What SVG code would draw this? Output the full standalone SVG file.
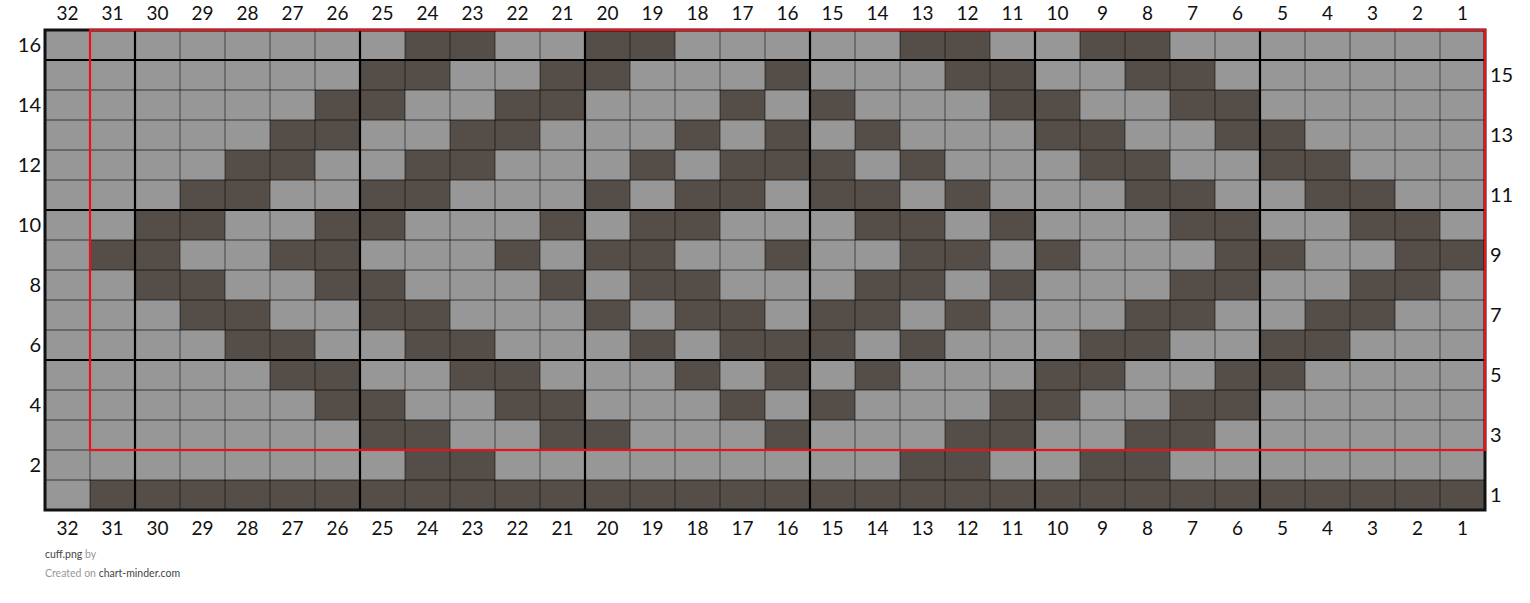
<svg xmlns="http://www.w3.org/2000/svg" xmlns:xlink="http://www.w3.org/1999/xlink" width="1530" height="603" viewBox="0 0 1530 603">
<style>
.d{fill:#554e48}
.t{stroke:#000;stroke-opacity:0.42;stroke-width:1.3}
.k{stroke:#000;stroke-width:2.2}
.n{font-family:Lato,"Liberation Sans",sans-serif;font-size:19px;fill:#111}
.s{font-family:Lato,"Liberation Sans",sans-serif;font-size:20px;fill:#111}
.f{font-family:Lato,"Liberation Sans",sans-serif;font-size:10.5px}
</style>
<defs>
<g id="r1"><rect class="d" x="360" y="0" width="90" height="30"/><rect class="d" x="540" y="0" width="90" height="30"/><rect class="d" x="765" y="0" width="45" height="30"/><rect class="d" x="945" y="0" width="90" height="30"/><rect class="d" x="1125" y="0" width="90" height="30"/></g>
<g id="r2"><rect class="d" x="315" y="0" width="90" height="30"/><rect class="d" x="495" y="0" width="90" height="30"/><rect class="d" x="720" y="0" width="45" height="30"/><rect class="d" x="810" y="0" width="45" height="30"/><rect class="d" x="990" y="0" width="90" height="30"/><rect class="d" x="1170" y="0" width="90" height="30"/></g>
<g id="r3"><rect class="d" x="270" y="0" width="90" height="30"/><rect class="d" x="450" y="0" width="90" height="30"/><rect class="d" x="675" y="0" width="45" height="30"/><rect class="d" x="765" y="0" width="45" height="30"/><rect class="d" x="855" y="0" width="45" height="30"/><rect class="d" x="1035" y="0" width="90" height="30"/><rect class="d" x="1215" y="0" width="90" height="30"/></g>
<g id="r4"><rect class="d" x="225" y="0" width="90" height="30"/><rect class="d" x="405" y="0" width="90" height="30"/><rect class="d" x="630" y="0" width="45" height="30"/><rect class="d" x="720" y="0" width="135" height="30"/><rect class="d" x="900" y="0" width="45" height="30"/><rect class="d" x="1080" y="0" width="90" height="30"/><rect class="d" x="1260" y="0" width="90" height="30"/></g>
<g id="r5"><rect class="d" x="180" y="0" width="90" height="30"/><rect class="d" x="360" y="0" width="90" height="30"/><rect class="d" x="585" y="0" width="45" height="30"/><rect class="d" x="675" y="0" width="90" height="30"/><rect class="d" x="810" y="0" width="90" height="30"/><rect class="d" x="945" y="0" width="45" height="30"/><rect class="d" x="1125" y="0" width="90" height="30"/><rect class="d" x="1305" y="0" width="90" height="30"/></g>
<g id="r6"><rect class="d" x="135" y="0" width="90" height="30"/><rect class="d" x="315" y="0" width="90" height="30"/><rect class="d" x="540" y="0" width="45" height="30"/><rect class="d" x="630" y="0" width="90" height="30"/><rect class="d" x="855" y="0" width="90" height="30"/><rect class="d" x="990" y="0" width="45" height="30"/><rect class="d" x="1170" y="0" width="90" height="30"/><rect class="d" x="1350" y="0" width="90" height="30"/></g>
</defs>
<rect width="1530" height="603" fill="#fff"/>
<g id="chart">
<rect x="45" y="30" width="1440" height="480" fill="#979797"/>
<g id="cells">
<rect class="d" x="405" y="30" width="90" height="30"/><rect class="d" x="585" y="30" width="90" height="30"/><rect class="d" x="900" y="30" width="90" height="30"/><rect class="d" x="1080" y="30" width="90" height="30"/>
<use xlink:href="#r1" y="60"/>
<use xlink:href="#r2" y="90"/>
<use xlink:href="#r3" y="120"/>
<use xlink:href="#r4" y="150"/>
<use xlink:href="#r5" y="180"/>
<use xlink:href="#r6" y="210"/>
<rect class="d" x="90" y="240" width="90" height="30"/><rect class="d" x="270" y="240" width="90" height="30"/><rect class="d" x="495" y="240" width="45" height="30"/><rect class="d" x="585" y="240" width="90" height="30"/><rect class="d" x="765" y="240" width="45" height="30"/><rect class="d" x="900" y="240" width="90" height="30"/><rect class="d" x="1035" y="240" width="45" height="30"/><rect class="d" x="1215" y="240" width="90" height="30"/><rect class="d" x="1395" y="240" width="90" height="30"/>
<use xlink:href="#r6" y="270"/>
<use xlink:href="#r5" y="300"/>
<use xlink:href="#r4" y="330"/>
<use xlink:href="#r3" y="360"/>
<use xlink:href="#r2" y="390"/>
<use xlink:href="#r1" y="420"/>
<rect class="d" x="405" y="450" width="90" height="30"/><rect class="d" x="900" y="450" width="90" height="30"/><rect class="d" x="1080" y="450" width="90" height="30"/>
<rect class="d" x="90" y="480" width="1395" height="30"/>
</g>
<g id="thin-lines" class="t">
<path d="M90 30V510M135 30V510M180 30V510M225 30V510M270 30V510M315 30V510M360 30V510M405 30V510M450 30V510M495 30V510M540 30V510M585 30V510M630 30V510M675 30V510M720 30V510M765 30V510M810 30V510M855 30V510M900 30V510M945 30V510M990 30V510M1035 30V510M1080 30V510M1125 30V510M1170 30V510M1215 30V510M1260 30V510M1305 30V510M1350 30V510M1395 30V510M1440 30V510"/>
<path d="M45 60H1485M45 90H1485M45 120H1485M45 150H1485M45 180H1485M45 210H1485M45 240H1485M45 270H1485M45 300H1485M45 330H1485M45 360H1485M45 390H1485M45 420H1485M45 450H1485M45 480H1485"/>
</g>
<g id="thick-lines" class="k">
<path d="M135 30V510M360 30V510M585 30V510M810 30V510M1035 30V510M1260 30V510"/>
<path d="M45 60H1485M45 210H1485M45 360H1485"/>
</g>
<rect id="border" x="45" y="30" width="1440" height="480" fill="none" stroke="#111" stroke-width="3"/>
<rect id="repeat" x="90" y="30" width="1395" height="420" fill="none" stroke="#e8121a" stroke-width="2.2"/>
</g>
<g id="col-labels-top" class="n" text-anchor="middle">
<text x="67.5" y="20">32</text><text x="112.5" y="20">31</text><text x="157.5" y="20">30</text><text x="202.5" y="20">29</text><text x="247.5" y="20">28</text><text x="292.5" y="20">27</text><text x="337.5" y="20">26</text><text x="382.5" y="20">25</text><text x="427.5" y="20">24</text><text x="472.5" y="20">23</text><text x="517.5" y="20">22</text><text x="562.5" y="20">21</text><text x="607.5" y="20">20</text><text x="652.5" y="20">19</text><text x="697.5" y="20">18</text><text x="742.5" y="20">17</text><text x="787.5" y="20">16</text><text x="832.5" y="20">15</text><text x="877.5" y="20">14</text><text x="922.5" y="20">13</text><text x="967.5" y="20">12</text><text x="1012.5" y="20">11</text><text x="1057.5" y="20">10</text><text x="1102.5" y="20">9</text><text x="1147.5" y="20">8</text><text x="1192.5" y="20">7</text><text x="1237.5" y="20">6</text><text x="1282.5" y="20">5</text><text x="1327.5" y="20">4</text><text x="1372.5" y="20">3</text><text x="1417.5" y="20">2</text><text x="1462.5" y="20">1</text>
</g>
<g id="col-labels-bottom" class="n" text-anchor="middle">
<text x="67.5" y="535">32</text><text x="112.5" y="535">31</text><text x="157.5" y="535">30</text><text x="202.5" y="535">29</text><text x="247.5" y="535">28</text><text x="292.5" y="535">27</text><text x="337.5" y="535">26</text><text x="382.5" y="535">25</text><text x="427.5" y="535">24</text><text x="472.5" y="535">23</text><text x="517.5" y="535">22</text><text x="562.5" y="535">21</text><text x="607.5" y="535">20</text><text x="652.5" y="535">19</text><text x="697.5" y="535">18</text><text x="742.5" y="535">17</text><text x="787.5" y="535">16</text><text x="832.5" y="535">15</text><text x="877.5" y="535">14</text><text x="922.5" y="535">13</text><text x="967.5" y="535">12</text><text x="1012.5" y="535">11</text><text x="1057.5" y="535">10</text><text x="1102.5" y="535">9</text><text x="1147.5" y="535">8</text><text x="1192.5" y="535">7</text><text x="1237.5" y="535">6</text><text x="1282.5" y="535">5</text><text x="1327.5" y="535">4</text><text x="1372.5" y="535">3</text><text x="1417.5" y="535">2</text><text x="1462.5" y="535">1</text>
</g>
<g id="row-labels-left" class="s" text-anchor="end">
<text x="41" y="52">16</text><text x="41" y="112">14</text><text x="41" y="172">12</text><text x="41" y="232">10</text><text x="41" y="292">8</text><text x="41" y="352">6</text><text x="41" y="412">4</text><text x="41" y="472">2</text>
</g>
<g id="row-labels-right" class="s">
<text x="1490" y="82">15</text><text x="1490" y="142">13</text><text x="1490" y="202">11</text><text x="1490" y="262">9</text><text x="1490" y="322">7</text><text x="1490" y="382">5</text><text x="1490" y="442">3</text><text x="1490" y="502">1</text>
</g>
<g id="footer" class="f">
<text x="45" y="558"><tspan fill="#444">cuff.png</tspan><tspan fill="#999"> by</tspan></text>
<text x="45" y="577"><tspan fill="#999">Created on </tspan><tspan fill="#444">chart-minder.com</tspan></text>
</g>
</svg>
